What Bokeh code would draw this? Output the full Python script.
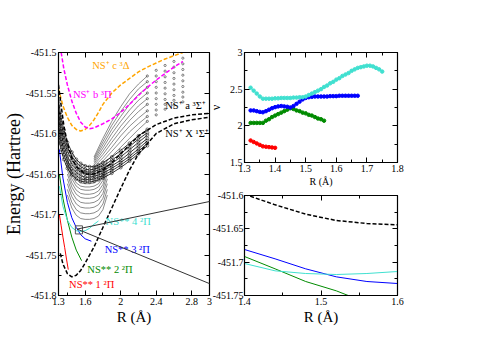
from bokeh.plotting import figure
from bokeh.layouts import row, column
from bokeh.models import FixedTicker, LinearAxis, Range1d, Arrow
from bokeh.core.properties import value
from bokeh.embed import file_html
from bokeh.resources import INLINE

FONT = "Liberation Serif"
ORANGE = "#FFA500"
MAGENTA = "#FF00FF"
RED = "#FF0000"
GREEN = "#008B00"
BLUE = "#0000FF"
CYAN = "#40E0D0"

# ---------------- main panel: potential energy curves ----------------
X_R = [1.32, 1.35, 1.40, 1.45, 1.50, 1.55, 1.60, 1.70, 1.80, 1.90, 2.00, 2.10, 2.20, 2.40, 2.60, 2.80, 3.00]
X_E = [-451.748, -451.761, -451.773, -451.777, -451.775, -451.769, -451.760, -451.740, -451.716, -451.692,
       -451.668, -451.645, -451.625, -451.600, -451.588, -451.583, -451.580]

A_R = [1.30, 1.33, 1.36, 1.40, 1.45, 1.50, 1.60, 1.70, 1.80, 1.90, 2.00, 2.20, 2.40, 2.60, 2.80, 3.00]
A_E = [-451.540, -451.566, -451.590, -451.612, -451.630, -451.641, -451.650, -451.650, -451.645, -451.636,
       -451.625, -451.603, -451.589, -451.581, -451.577, -451.575]

C_R = [1.30, 1.35, 1.40, 1.45, 1.50, 1.55, 1.60, 1.65, 1.70, 1.75, 1.80, 1.90, 2.00, 2.10, 2.20, 2.30,
       2.40, 2.50, 2.60, 2.70]
C_E = [-451.545, -451.566, -451.580, -451.590, -451.595, -451.597, -451.595, -451.590, -451.583, -451.574,
       -451.564, -451.550, -451.540, -451.532, -451.524, -451.518, -451.513, -451.508, -451.504, -451.500]

B_R = [1.33, 1.36, 1.40, 1.45, 1.50, 1.55, 1.60, 1.65, 1.70, 1.80, 1.90, 2.00, 2.10, 2.20, 2.30, 2.40, 2.50, 2.60, 2.70]
B_E = [-451.500, -451.520, -451.540, -451.560, -451.575, -451.586, -451.592, -451.594, -451.593, -451.588,
       -451.582, -451.574, -451.564, -451.553, -451.543, -451.534, -451.526, -451.518, -451.511]

RED_R = [1.31, 1.33, 1.35, 1.37, 1.39, 1.41]
RED_E = [-451.700, -451.714, -451.728, -451.741, -451.755, -451.768]
GREEN_R = [1.31, 1.35, 1.40, 1.45, 1.50, 1.56]
GREEN_E = [-451.650, -451.680, -451.707, -451.728, -451.744, -451.757]
BLUE_R = [1.31, 1.35, 1.40, 1.45, 1.50, 1.55, 1.60, 1.67]
BLUE_E = [-451.620, -451.655, -451.685, -451.704, -451.716, -451.725, -451.730, -451.733]
CYAN_R = [1.31, 1.35, 1.40, 1.45, 1.50, 1.55, 1.60, 1.65, 1.70, 1.75]
CYAN_E = [-451.665, -451.690, -451.707, -451.716, -451.720, -451.721, -451.720, -451.717, -451.712, -451.708]

# dense band of computed states
BAND_R = [1.30, 1.33, 1.36, 1.40, 1.45, 1.50, 1.55, 1.60, 1.65, 1.70, 1.75, 1.80, 1.90, 2.00, 2.10, 2.20, 2.30]
BAND_E = [
    [-451.605, -451.620, -451.632, -451.643, -451.651, -451.656, -451.659, -451.660, -451.660, -451.659, -451.657, -451.655, -451.649, -451.642, -451.634, -451.625, -451.615],
    [-451.597, -451.613, -451.626, -451.638, -451.647, -451.652, -451.656, -451.657, -451.657, -451.656, -451.654, -451.652, -451.646, -451.639, -451.631, -451.622, -451.612],
    [-451.590, -451.607, -451.620, -451.633, -451.643, -451.648, -451.652, -451.654, -451.654, -451.653, -451.651, -451.649, -451.643, -451.636, -451.628, -451.619, -451.609],
    [-451.582, -451.600, -451.614, -451.628, -451.638, -451.644, -451.648, -451.650, -451.651, -451.650, -451.648, -451.646, -451.640, -451.633, -451.624, -451.615, -451.606],
    [-451.575, -451.594, -451.608, -451.622, -451.633, -451.640, -451.645, -451.647, -451.648, -451.647, -451.645, -451.643, -451.637, -451.629, -451.620, -451.611, -451.602],
    [-451.567, -451.587, -451.602, -451.617, -451.628, -451.636, -451.641, -451.644, -451.645, -451.644, -451.642, -451.640, -451.633, -451.625, -451.616, -451.607, -451.599],
    [-451.560, -451.580, -451.596, -451.611, -451.623, -451.632, -451.637, -451.640, -451.641, -451.641, -451.639, -451.636, -451.629, -451.621, -451.612, -451.603, -451.595],
]

# upper states fanning out to the right (points only from R = 2.3 on)
UP_R = [1.70, 1.80, 1.90, 2.00, 2.10, 2.20, 2.30, 2.40, 2.50, 2.60, 2.70]
UP_E = [
    [-451.645, -451.638, -451.628, -451.617, -451.606, -451.595, -451.585, -451.577, -451.570, -451.565, -451.561],
    [-451.643, -451.634, -451.622, -451.610, -451.598, -451.588, -451.579, -451.571, -451.564, -451.559, -451.555],
    [-451.641, -451.630, -451.617, -451.603, -451.591, -451.581, -451.572, -451.564, -451.558, -451.553, -451.549],
    [-451.639, -451.626, -451.611, -451.597, -451.584, -451.573, -451.564, -451.557, -451.551, -451.546, -451.542],
    [-451.637, -451.622, -451.606, -451.591, -451.578, -451.566, -451.557, -451.550, -451.544, -451.539, -451.535],
    [-451.635, -451.618, -451.600, -451.585, -451.571, -451.559, -451.550, -451.543, -451.537, -451.532, -451.528],
    [-451.633, -451.614, -451.595, -451.579, -451.564, -451.552, -451.543, -451.536, -451.530, -451.525, -451.521],
    [-451.631, -451.610, -451.590, -451.573, -451.558, -451.545, -451.536, -451.529, -451.523, -451.518, -451.514],
    [-451.629, -451.606, -451.585, -451.567, -451.551, -451.539, -451.529, -451.522, -451.516, -451.511, -451.507],
]
UP_LINE_END = 7   # lines drawn up to R = 2.3; beyond, only points

# lower Rydberg-like states
LOW_R = [1.40, 1.45, 1.50, 1.55, 1.60, 1.65, 1.70, 1.75, 1.80, 1.85]
LOW_E = [
    [-451.676, -451.692, -451.701, -451.705, -451.706, -451.706, -451.705, -451.702, -451.694, -451.676],
    [-451.669, -451.685, -451.694, -451.698, -451.699, -451.699, -451.698, -451.695, -451.687, -451.669],
    [-451.662, -451.678, -451.687, -451.691, -451.692, -451.692, -451.691, -451.688, -451.680, -451.662],
    [-451.656, -451.672, -451.681, -451.685, -451.686, -451.686, -451.685, -451.682, -451.674, -451.656],
    [-451.650, -451.666, -451.675, -451.679, -451.680, -451.680, -451.679, -451.676, -451.668, -451.650],
    [-451.645, -451.661, -451.670, -451.674, -451.675, -451.675, -451.674, -451.671, -451.663, -451.645],
    [-451.640, -451.656, -451.665, -451.669, -451.670, -451.670, -451.669, -451.666, -451.658, -451.640],
    [-451.636, -451.652, -451.661, -451.665, -451.666, -451.666, -451.665, -451.662, -451.654, -451.636],
    [-451.632, -451.648, -451.657, -451.661, -451.662, -451.662, -451.661, -451.658, -451.650, -451.632],
]

MAIN_XTICKS = [1.3, 1.6, 2.0, 2.4, 2.8, 3.0]
MAIN_XLABELS = ["1.3", "1.6", "2", "2.4", "2.8", "3"]
MAIN_XMINOR = [1.4, 1.8, 2.2, 2.6]
MAIN_YTICKS = [-451.8, -451.75, -451.7, -451.65, -451.6, -451.55, -451.5]
MAIN_YLABELS = ["-451.8", "-451.75", "-451.7", "-451.65", "-451.6", "-451.55", "-451.5"]
MAIN_YMINOR = [-451.775, -451.725, -451.675, -451.625, -451.575, -451.525]

# ---------------- top-right: nu vs R ----------------
NU_RED_R = [1.32, 1.33, 1.34, 1.35, 1.36, 1.37, 1.38, 1.39, 1.40]
NU_RED = [1.80, 1.78, 1.76, 1.74, 1.72, 1.715, 1.71, 1.705, 1.70]
NU_GREEN_R = [1.32, 1.33, 1.34, 1.35, 1.36, 1.37, 1.38, 1.39, 1.40, 1.41, 1.42, 1.43, 1.44, 1.45,
              1.46, 1.47, 1.48, 1.49, 1.50, 1.51, 1.52, 1.53, 1.54, 1.55, 1.56]
NU_GREEN = [2.04, 2.04, 2.04, 2.04, 2.04, 2.07, 2.09, 2.12, 2.14, 2.16, 2.18, 2.20, 2.22, 2.24,
            2.23, 2.21, 2.20, 2.18, 2.17, 2.15, 2.14, 2.12, 2.10, 2.09, 2.07]
NU_BLUE_R = [1.32, 1.33, 1.34, 1.35, 1.36, 1.37, 1.38, 1.39, 1.40, 1.41, 1.42, 1.43, 1.44, 1.45,
             1.46, 1.47, 1.48, 1.49, 1.50, 1.51, 1.52, 1.53, 1.54, 1.55, 1.56, 1.57, 1.58, 1.59,
             1.60, 1.61, 1.62, 1.63, 1.64, 1.65, 1.66, 1.67]
NU_BLUE = [2.21, 2.21, 2.20, 2.19, 2.185, 2.20, 2.22, 2.24, 2.255, 2.265, 2.27, 2.265, 2.26, 2.25,
           2.27, 2.30, 2.33, 2.36, 2.38, 2.39, 2.395, 2.40, 2.40, 2.40, 2.40, 2.40, 2.405, 2.405,
           2.405, 2.41, 2.41, 2.41, 2.41, 2.41, 2.41, 2.41]
NU_CYAN_R = [1.32, 1.33, 1.34, 1.35, 1.36, 1.37, 1.38, 1.39, 1.40, 1.41, 1.42, 1.43, 1.44, 1.45,
             1.46, 1.47, 1.48, 1.49, 1.50, 1.51, 1.52, 1.53, 1.54, 1.55, 1.56, 1.57, 1.58, 1.59,
             1.60, 1.61, 1.62, 1.63, 1.64, 1.65, 1.66, 1.67, 1.68, 1.69, 1.70, 1.71, 1.72, 1.73,
             1.74, 1.75]
NU_CYAN = [2.52, 2.48, 2.44, 2.40, 2.37, 2.37, 2.37, 2.37, 2.375, 2.375, 2.38, 2.38, 2.38, 2.38,
           2.385, 2.385, 2.39, 2.39, 2.40, 2.42, 2.44, 2.46, 2.48, 2.50, 2.53, 2.55, 2.58, 2.60,
           2.63, 2.65, 2.68, 2.70, 2.72, 2.75, 2.77, 2.79, 2.80, 2.81, 2.82, 2.82, 2.81, 2.79,
           2.77, 2.74]
NU_XTICKS = [1.3, 1.4, 1.5, 1.6, 1.7, 1.8]
NU_XMINOR = [1.35, 1.45, 1.55, 1.65, 1.75]
NU_YTICKS = [1.5, 2.0, 2.5, 3.0]
NU_YLABELS = ["1.5", "2", "2.5", "3"]
NU_YMINOR = [1.75, 2.25, 2.75]

# ---------------- bottom-right: zoom ----------------
INS_DASH_R = [1.40, 1.44, 1.48, 1.52, 1.56, 1.60]
INS_DASH_E = [-451.598, -451.614, -451.628, -451.6375, -451.642, -451.644]
INS_BLUE_R = [1.40, 1.44, 1.48, 1.52, 1.56, 1.60]
INS_BLUE_E = [-451.681, -451.695, -451.710, -451.722, -451.729, -451.732]
INS_GREEN_R = [1.40, 1.44, 1.48, 1.52, 1.54]
INS_GREEN_E = [-451.6915, -451.710, -451.729, -451.743, -451.752]
INS_CYAN_R = [1.40, 1.44, 1.48, 1.52, 1.56, 1.60]
INS_CYAN_E = [-451.702, -451.713, -451.717, -451.7185, -451.717, -451.714]
INS_XTICKS = [1.4, 1.5, 1.6]
INS_XMINOR = [1.45, 1.55]
INS_YTICKS = [-451.75, -451.7, -451.65, -451.6]
INS_YLABELS = ["-451.75", "-451.7", "-451.65", "-451.6"]
INS_YMINOR = [-451.725, -451.675, -451.625]

# zoom box in main panel
ZBOX = (1.49, 1.57, -451.724, -451.714)
ZPT = (1.51, -451.718)

# ---------------- layout constants (pixels) ----------------
MAIN_W, MAIN_H = 240, 330
MAIN_BL, MAIN_BR, MAIN_BT, MAIN_BB = 52, 31, 52, 35
COL_SHIFT = 40
TR_W, TR_H = 210, 189
TR_BL, TR_BR, TR_BT, TR_BB = 44, 13, 52, 26
BR_W, BR_H = 210, 141
BR_BL, BR_BR, BR_BT, BR_BB = 39, 13, 6, 35


def base_fig(w, h, xr, yr, bl, br, bt, bb):
    p = figure(width=w, height=h, x_range=Range1d(*xr), y_range=Range1d(*yr),
               output_backend="svg", toolbar_location=None,
               min_border_left=bl, min_border_right=br, min_border_top=bt, min_border_bottom=bb)
    p.grid.visible = False
    p.background_fill_color = "white"
    p.border_fill_color = None
    p.outline_line_color = "black"
    p.outline_line_width = 1.2
    return p


def style_axis(ax, ticks, minor, labels=None, font_size="10px"):
    ax.ticker = FixedTicker(ticks=ticks, minor_ticks=minor)
    ax.major_tick_in = 5
    ax.major_tick_out = 0
    ax.minor_tick_in = 3
    ax.minor_tick_out = 0
    ax.axis_line_color = "black"
    ax.major_tick_line_color = "black"
    ax.minor_tick_line_color = "black"
    ax.major_label_text_font = FONT
    ax.major_label_text_font_size = font_size
    ax.major_label_text_color = "black"
    ax.major_label_standoff = 2
    ax.axis_label_text_font = FONT
    ax.axis_label_text_font_style = "normal"
    ax.axis_label_text_color = "black"
    if labels is not None:
        ax.major_label_overrides = {t: s for t, s in zip(ticks, labels)}


def mirror(p, xt, xm, yt, ym):
    for ticks, minor, side in ((xt, xm, "above"), (yt, ym, "right")):
        ax = LinearAxis()
        style_axis(ax, ticks, minor, font_size="1px")
        ax.major_label_text_color = None
        ax.major_label_standoff = 0
        p.add_layout(ax, side)


# ================= main panel =================
main = base_fig(MAIN_W, MAIN_H, (1.3, 3.0), (-451.8, -451.5), MAIN_BL, MAIN_BR, MAIN_BT, MAIN_BB)
style_axis(main.xaxis[0], MAIN_XTICKS, MAIN_XMINOR, MAIN_XLABELS)
style_axis(main.yaxis[0], MAIN_YTICKS, MAIN_YMINOR, MAIN_YLABELS)
main.xaxis[0].axis_label = "R (Å)"
main.xaxis[0].axis_label_text_font_size = "15px"
main.xaxis[0].axis_label_standoff = 1
main.yaxis[0].axis_label = "Energy (Hartree)"
main.yaxis[0].axis_label_text_font_size = "18px"
main.yaxis[0].axis_label_standoff = -1
mirror(main, MAIN_XTICKS, MAIN_XMINOR, MAIN_YTICKS, MAIN_YMINOR)

for e in LOW_E:
    main.line(LOW_R, e, line_color="#5a5a5a", line_width=0.7)
for e in UP_E:
    main.line(UP_R[:UP_LINE_END], e[:UP_LINE_END], line_color="#404040", line_width=0.6)
    main.scatter(UP_R[UP_LINE_END - 1:], e[UP_LINE_END - 1:], marker="circle", size=2.2,
                 fill_color=None, line_color="#303030", line_width=0.6)
for e in BAND_E:
    main.line(BAND_R, e, line_color="black", line_width=0.8)
    main.scatter(BAND_R, e, marker="circle", size=3, fill_color=None, line_color="black", line_width=0.5)

main.line(RED_R, RED_E, line_color=RED, line_width=1)
main.line(GREEN_R, GREEN_E, line_color=GREEN, line_width=1)
main.line(BLUE_R, BLUE_E, line_color=BLUE, line_width=1)
main.line(CYAN_R, CYAN_E, line_color=CYAN, line_width=1)

main.line(C_R, C_E, line_color=ORANGE, line_width=1.5, line_dash="4 2")
main.line(B_R, B_E, line_color=MAGENTA, line_width=1.5, line_dash="4 2")
main.line(A_R, A_E, line_color="black", line_width=1.5, line_dash="4 2")
main.line(X_R, X_E, line_color="black", line_width=1.5, line_dash="4 2")

main.quad(left=[ZBOX[0]], right=[ZBOX[1]], bottom=[ZBOX[2]], top=[ZBOX[3]],
          fill_color=None, line_color="#555555", line_width=1)

# connector lines to the inset's left corners
px_per_r = (MAIN_W - MAIN_BL - MAIN_BR) / (3.0 - 1.3)
px_per_e = (MAIN_H - MAIN_BT - MAIN_BB) / 0.3
ins_left_px = MAIN_W - COL_SHIFT + BR_BL            # inset frame left, relative to main canvas
r_edge = 1.3 + (ins_left_px - MAIN_BL) / px_per_r
ins_top_px = TR_H + BR_BT
e_top = -451.5 - (ins_top_px - MAIN_BT) / px_per_e
e_bot = -451.5 - (ins_top_px + (BR_H - BR_BT - BR_BB) - MAIN_BT) / px_per_e
for ye in (e_top, e_bot):
    main.add_layout(Arrow(end=None, x_start=ZPT[0], y_start=ZPT[1], x_end=r_edge, y_end=ye,
                          line_color="#333333", line_width=1))

LBL_X = [1.679, 1.462, 2.502, 2.502]
LBL_Y = [-451.516, -451.552, -451.565, -451.600]
LBL_T = ["NS⁺ c ³Δ", "NS⁺ b ³Π", "NS⁺ a ³Σ⁺", "NS⁺ X ¹Σ⁺"]
LBL_C = [ORANGE, MAGENTA, "black", "black"]
main.text(x=LBL_X, y=LBL_Y, text=LBL_T, text_color=LBL_C, text_font=value(FONT),
          text_font_size="10.5px", text_baseline="middle", text_align="left")

S_X = [1.83, 1.82, 1.625, 1.419]
S_Y = [-451.7086, -451.743, -451.768, -451.786]
S_T = ["NS** 4 ²Π", "NS** 3 ²Π", "NS** 2 ²Π", "NS** 1 ²Π"]
S_C = [CYAN, BLUE, GREEN, RED]
main.text(x=S_X, y=S_Y, text=S_T, text_color=S_C, text_font=value(FONT),
          text_font_size="10.5px", text_baseline="middle", text_align="left")

# ================= top-right panel =================
tr = base_fig(TR_W, TR_H, (1.3, 1.8), (1.5, 3.0), TR_BL, TR_BR, TR_BT, TR_BB)
style_axis(tr.xaxis[0], NU_XTICKS, NU_XMINOR)
style_axis(tr.yaxis[0], NU_YTICKS, NU_YMINOR, NU_YLABELS)
tr.xaxis[0].axis_label = "R (Å)"
tr.xaxis[0].axis_label_text_font_size = "10px"
tr.xaxis[0].axis_label_standoff = 1
tr.yaxis[0].axis_label = "ν"
tr.yaxis[0].axis_label_text_font_size = "12px"
tr.yaxis[0].axis_label_standoff = 4
mirror(tr, NU_XTICKS, NU_XMINOR, NU_YTICKS, NU_YMINOR)
for rr, vv, col in ((NU_RED_R, NU_RED, RED), (NU_GREEN_R, NU_GREEN, GREEN),
                    (NU_BLUE_R, NU_BLUE, BLUE), (NU_CYAN_R, NU_CYAN, CYAN)):
    tr.line(rr, vv, line_color=col, line_width=1)
    tr.scatter(rr, vv, marker="circle", size=3.5, fill_color=col, line_color=col)

# ================= bottom-right panel =================
br = base_fig(BR_W, BR_H, (1.4, 1.6), (-451.75, -451.6), BR_BL, BR_BR, BR_BT, BR_BB)
style_axis(br.xaxis[0], INS_XTICKS, INS_XMINOR)
style_axis(br.yaxis[0], INS_YTICKS, INS_YMINOR, INS_YLABELS)
br.yaxis[0].major_label_standoff = 1
br.xaxis[0].axis_label = "R (Å)"
br.xaxis[0].axis_label_text_font_size = "15px"
br.xaxis[0].axis_label_standoff = 1
mirror(br, INS_XTICKS, INS_XMINOR, INS_YTICKS, INS_YMINOR)
br.line(INS_DASH_R, INS_DASH_E, line_color="black", line_width=1.5, line_dash="4 2")
br.line(INS_BLUE_R, INS_BLUE_E, line_color=BLUE, line_width=1)
br.line(INS_GREEN_R, INS_GREEN_E, line_color=GREEN, line_width=1)
br.line(INS_CYAN_R, INS_CYAN_E, line_color=CYAN, line_width=1)

right_col = column(tr, br, styles={"margin-left": f"-{COL_SHIFT}px"})
layout = row(main, right_col)

open("out.html", "w").write(file_html(layout, INLINE))
